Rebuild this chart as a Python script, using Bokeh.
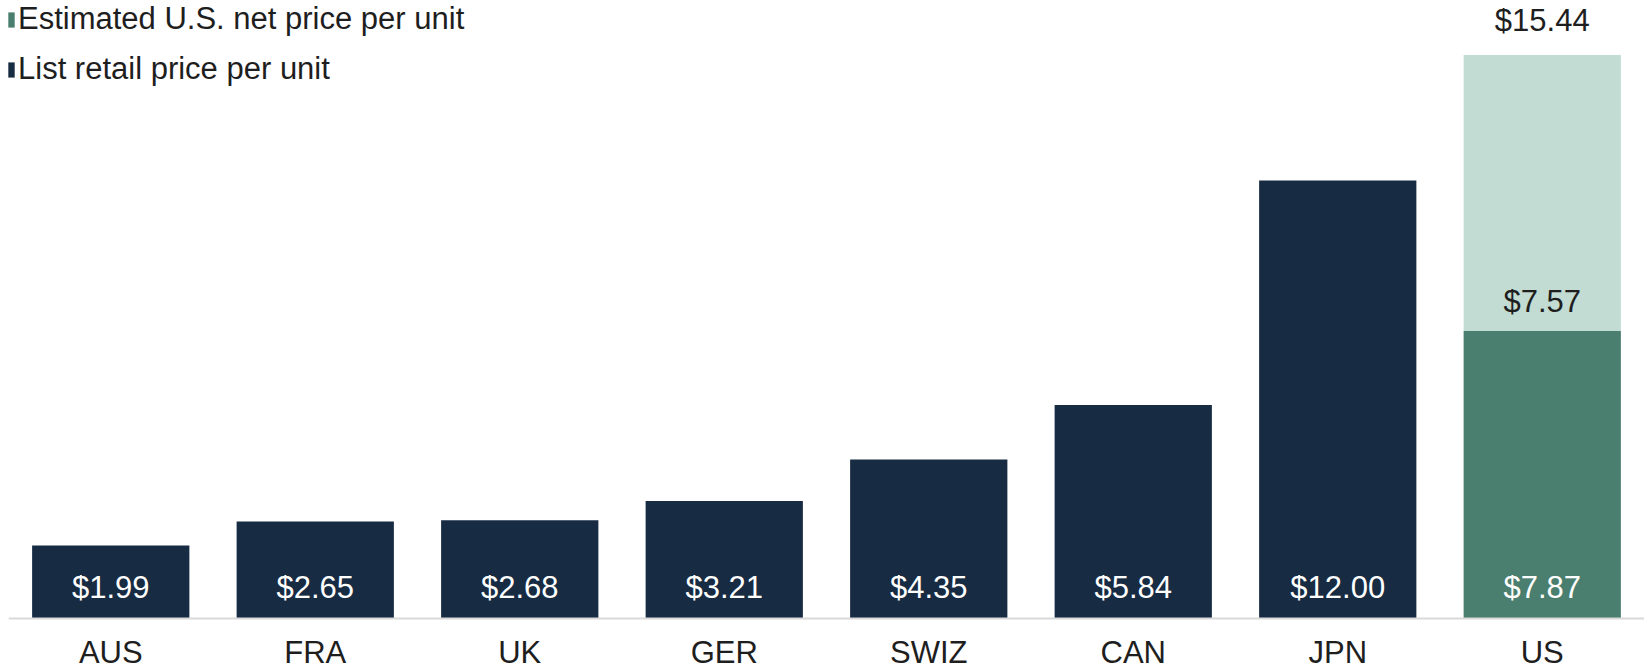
from bokeh.plotting import figure
from bokeh.models import FactorRange, Range1d, CategoricalAxis, Legend, LegendItem, ColumnDataSource
from bokeh.embed import file_html
from bokeh.resources import INLINE
from bokeh.core.properties import value

# ---- data ----
countries = ["AUS", "FRA", "UK", "GER", "SWIZ", "CAN", "JPN", "US"]
retail_countries = ["AUS", "FRA", "UK", "GER", "SWIZ", "CAN", "JPN"]
retail_prices = [1.99, 2.65, 2.68, 3.21, 4.35, 5.84, 12.00]
us_category = ["US"]
us_net_price = [7.87]
us_discount = [7.57]
us_list_price = [15.44]
legend_labels = ["Estimated U.S. net price per unit", "List retail price per unit"]

# ---- style ----
NAVY = "#172B43"
GREEN = "#4A7E6E"
LIGHT = "#C2DCD3"
TEXT = "#1E1E1E"
FONT = "Liberation Sans"
FS = "31px"
BAR_W = 0.769

p = figure(width=1644, height=669,
           x_range=FactorRange(*countries, range_padding=0),
           y_range=Range1d(-1.412, 16.936),
           output_backend="svg", toolbar_location=None,
           x_axis_location=None, y_axis_location=None,
           min_border=0, min_border_left=8, outline_line_color=None)
p.grid.visible = False
p.background_fill_color = "white"
p.border_fill_color = "white"

src_retail = ColumnDataSource(dict(
    x=retail_countries, top=retail_prices,
    label=[f"${v:.2f}" for v in retail_prices]))
r_retail = p.vbar(x="x", top="top", bottom=0, width=BAR_W, source=src_retail,
                  fill_color=NAVY, line_color=None)

us_bottom_top = [n + d for n, d in zip(us_net_price, us_discount)]
src_us = ColumnDataSource(dict(
    x=us_category, net=us_net_price, total=us_bottom_top, listp=us_list_price,
    net_label=[f"${v:.2f}" for v in us_net_price],
    disc_label=[f"${v:.2f}" for v in us_discount],
    list_label=[f"${v:.2f}" for v in us_list_price]))
r_net = p.vbar(x="x", bottom=0, top="net", width=BAR_W, source=src_us,
               fill_color=GREEN, line_color=None)
r_disc = p.vbar(x="x", bottom="net", top="total", width=BAR_W, source=src_us,
                fill_color=LIGHT, line_color=None)

common = dict(text_align="center", text_baseline="middle",
              text_font=value(FONT), text_font_size=FS)
p.text(x="x", y=0, text="label", source=src_retail, y_offset=-31,
       text_color="white", **common)
p.text(x="x", y=0, text="net_label", source=src_us, y_offset=-31,
       text_color="white", **common)
p.text(x="x", y="net", text="disc_label", source=src_us, y_offset=-30,
       text_color=TEXT, **common)
p.text(x="x", y="listp", text="list_label", source=src_us, y_offset=-35,
       text_color=TEXT, **common)

xaxis = CategoricalAxis(fixed_location=0)
xaxis.axis_line_color = "#D9D9D9"
xaxis.axis_line_width = 2
xaxis.major_tick_line_color = None
xaxis.minor_tick_line_color = None
xaxis.major_tick_out = 0
xaxis.major_tick_in = 0
xaxis.major_label_standoff = 17
xaxis.major_label_text_font = FONT
xaxis.major_label_text_font_size = FS
xaxis.major_label_text_color = TEXT
p.add_layout(xaxis, "below")

legend = Legend(items=[LegendItem(label=legend_labels[0], renderers=[r_net]),
                       LegendItem(label=legend_labels[1], renderers=[r_retail])],
                location=(-1, 582), padding=0, margin=0, spacing=14,
                glyph_width=8, glyph_height=19, label_standoff=3, label_height=36,
                label_text_font=FONT, label_text_font_size=FS, label_text_color=TEXT,
                border_line_color=None, background_fill_alpha=0)
p.add_layout(legend, "center")

open("out.html", "w").write(file_html(p, INLINE))
